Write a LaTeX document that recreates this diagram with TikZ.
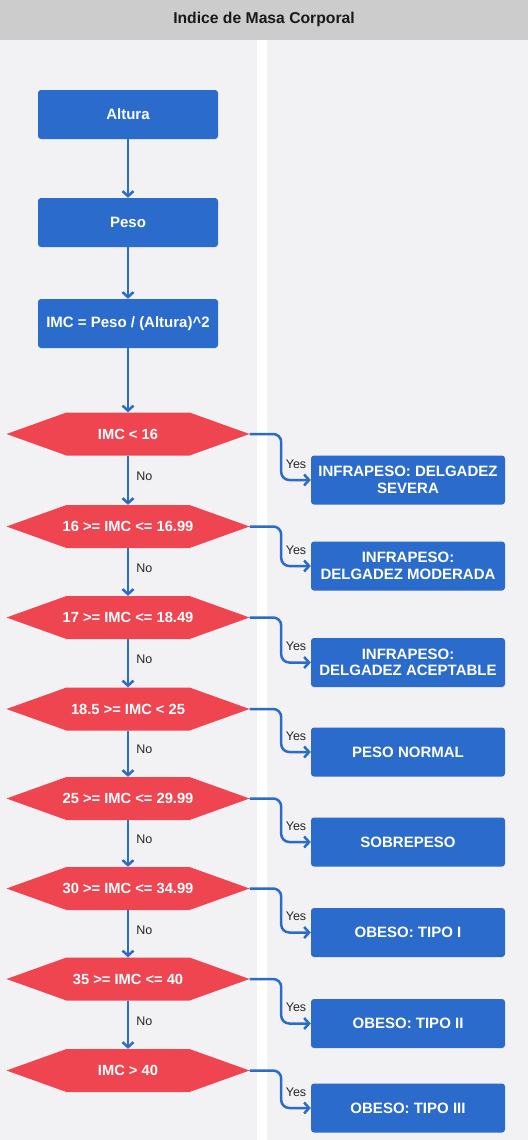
\documentclass[tikz,border=0pt]{standalone}
\usepackage{fontspec}
\setmainfont{Liberation Sans}
\usetikzlibrary{arrows.meta}
\definecolor{boxblue}{HTML}{2B6BCC}
\definecolor{hexred}{HTML}{EF4550}
\definecolor{lanebg}{HTML}{F2F2F4}
\definecolor{headgray}{HTML}{CCCCCC}
\tikzset{
  stepbox/.style={draw=none, fill=boxblue, rounded corners=3pt, text=white,
    font=\fontsize{15}{16.5}\selectfont\bfseries, align=center, inner sep=0pt},
  procbox/.style={stepbox, minimum width=180pt, minimum height=49pt},
  resbox/.style={stepbox, minimum width=194pt, minimum height=49pt},
  hexbox/.style={minimum width=243pt, minimum height=43pt, inner sep=0pt, text=white,
    font=\fontsize{14.7}{16}\selectfont\bfseries,
    path picture={\fill[hexred] (path picture bounding box.west)
      -- ([xshift=60pt]path picture bounding box.north west)
      -- ([xshift=-60pt]path picture bounding box.north east)
      -- (path picture bounding box.east)
      -- ([xshift=-60pt]path picture bounding box.south east)
      -- ([xshift=60pt]path picture bounding box.south west) -- cycle;}},
  conn/.style={draw=boxblue, line width=2.5pt, rounded corners=8pt,
    -{Straight Barb[length=5pt,width=11pt,line width=2.5pt]}},
  yeslbl/.style={font=\fontsize{12.5}{14}\selectfont, text=black!85, anchor=base, yshift=12pt, inner sep=0pt},
  nolbl/.style={font=\fontsize{12.5}{14}\selectfont, text=black!85, anchor=west, xshift=7pt, yshift=4pt, inner sep=0pt},
}
\begin{document}
\begin{tikzpicture}[x=1pt,y=-1pt]
\useasboundingbox (0,0) rectangle (528,1140);
\fill[white] (0,0) rectangle (528,1140);
\fill[headgray] (0,0) rectangle (528,40);
\fill[lanebg] (0,40) rectangle (257,1140);
\fill[lanebg] (267,40) rectangle (528,1140);
\node[font=\fontsize{15.7}{17}\selectfont\bfseries, text=black!90] (title) at (264,19.5) {Indice de Masa Corporal};

\node[procbox] (alt) at (128,114.5) {Altura};
\node[procbox] (peso) at (128,222.5) {Peso};
\node[procbox] (imc) at (128,323.5) {IMC = Peso / (Altura)\^{}2};

\node[hexbox] (d1) at (128,434) {IMC < 16};
\node[hexbox] (d2) at (128,526.5) {16 >= IMC <= 16.99};
\node[hexbox] (d3) at (128,617.5) {17 >= IMC <= 18.49};
\node[hexbox] (d4) at (128,709) {18.5 >= IMC < 25};
\node[hexbox] (d5) at (128,798.5) {25 >= IMC <= 29.99};
\node[hexbox] (d6) at (128,888.5) {30 >= IMC <= 34.99};
\node[hexbox] (d7) at (128,979) {35 >= IMC <= 40};
\node[hexbox] (d8) at (128,1070.5) {IMC > 40};

\node[resbox] (r1) at (408,480) {INFRAPESO: DELGADEZ\\SEVERA};
\node[resbox] (r2) at (408,566) {INFRAPESO:\\DELGADEZ MODERADA};
\node[resbox] (r3) at (408,662.5) {INFRAPESO:\\DELGADEZ ACEPTABLE};
\node[resbox] (r4) at (408,752) {PESO NORMAL};
\node[resbox] (r5) at (408,842) {SOBREPESO};
\node[resbox] (r6) at (408,932.5) {OBESO: TIPO I};
\node[resbox] (r7) at (408,1023.5) {OBESO: TIPO II};
\node[resbox] (r8) at (408,1108) {OBESO: TIPO III};

\draw[conn] (alt) -- (peso);
\draw[conn] (peso) -- (imc);
\draw[conn] (imc) -- (d1);
\foreach \a/\b in {d1/d2,d2/d3,d3/d4,d4/d5,d5/d6,d6/d7,d7/d8}{
  \draw[conn] (\a.south) -- node[nolbl] {No} (\b.north);
}
\foreach \a/\b in {d1/r1,d2/r2,d3/r3,d4/r4,d5/r5,d6/r6,d7/r7,d8/r8}{
  \draw[conn] (\a.east) -- ([xshift=31.5pt]\a.east) |- node[pos=0.75, yeslbl] {Yes} (\b.west);
}
\end{tikzpicture}
\end{document}
